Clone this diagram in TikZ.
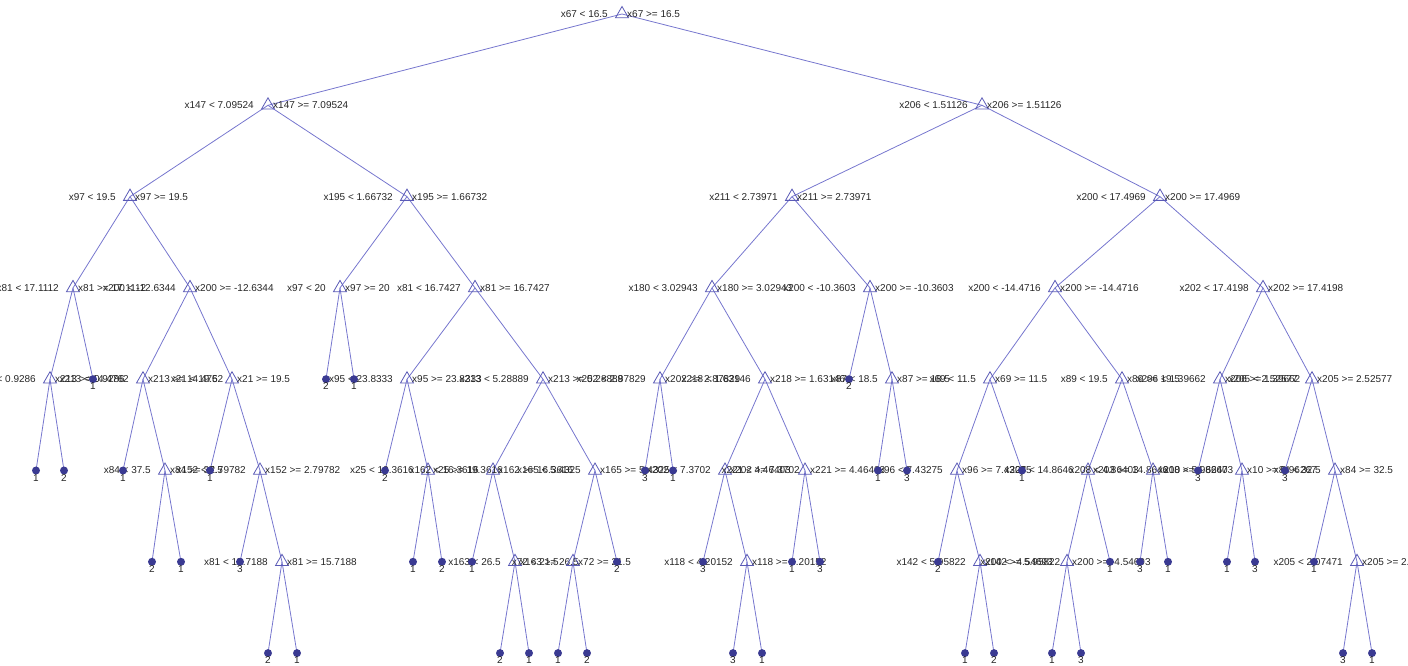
\documentclass[tikz,border=0pt]{standalone}
\usepackage{fontspec}
\setmainfont{Liberation Sans}
\usetikzlibrary{positioning,shapes.geometric,backgrounds}
\definecolor{azulrama}{HTML}{7676CE}
\definecolor{azulnodo}{HTML}{5A5AB6}
\definecolor{azulhoja}{HTML}{3A3A92}

\begin{document}
\begin{tikzpicture}[x=1pt,y=-1pt,
    corte/.style={draw=azulnodo,line width=0.8pt,regular polygon,regular polygon sides=3,minimum size=15pt,inner sep=0pt},
    hojita/.style={circle,fill=azulhoja,minimum size=8pt,inner sep=0pt},
    etq/.style={font=\fontsize{10}{12}\selectfont,inner sep=0pt,text=black!85},
    arista/.style={draw=azulrama,line width=0.8pt}]
    \useasboundingbox (0,0) rectangle (1408,665);
    % nodos de corte: nivel / x / variable / umbral
    \foreach \lv/\px/\feat/\umbral in {0/622/x67/16.5,
      1/268/x147/7.09524, 1/982/x206/1.51126,
      2/130/x97/19.5, 2/407/x195/1.66732, 2/792/x211/2.73971, 2/1160/x200/17.4969,
      3/73/x81/17.1112, 3/190/x200/-12.6344, 3/340/x97/20, 3/475/x81/16.7427,
      3/712/x180/3.02943, 3/870/x200/-10.3603, 3/1055/x200/-14.4716, 3/1263/x202/17.4198,
      4/50/x213/0.9286, 4/143/x213/14.4762, 4/232/x21/19.5, 4/407/x95/23.8333,
      4/543/x213/5.28889, 4/660/x202/2.87829, 4/765/x218/1.63146, 4/892/x87/18.5,
      4/990/x69/11.5, 4/1122/x89/19.5, 4/1220/x206/1.39662, 4/1312/x205/2.52577,
      5/165/x84/37.5, 5/260/x152/2.79782, 5/428/x25/19.3616, 5/493/x162/16.3616,
      5/595/x165/5.4325, 5/725/x202/7.3702, 5/805/x221/4.46403, 5/957/x96/7.43275,
      5/1088/x203/14.8646, 5/1153/x208/4.86403, 5/1242/x10/5.96267, 5/1335/x84/32.5,
      6/282/x81/15.7188, 6/515/x163/26.5, 6/573/x72/21.5, 6/747/x118/4.20152,
      6/980/x142/5.95822, 6/1067/x200/-4.54693, 6/1357/x205/2.07471} {
      \node[corte] (s\lv x\px) at (\px,{14+91.3*\lv}) {};
      \node[etq,left=14pt of s\lv x\px.center] (s\lv x\px l) {\feat{} < \umbral};
      \node[etq,right=5pt of s\lv x\px.center] (s\lv x\px r) {\feat{} >= \umbral};
    }
    % hojas: nivel / x / clase
    \foreach \lv/\px/\cl in {4/93/1, 4/326/2, 4/354/1, 4/849/2,
      5/36/1, 5/64/2, 5/123/1, 5/210/1, 5/385/2, 5/645/3, 5/673/1, 5/878/1,
      5/907/3, 5/1022/1, 5/1198/3, 5/1285/3,
      6/152/2, 6/181/1, 6/240/3, 6/413/1, 6/442/2, 6/472/1, 6/617/2, 6/703/3,
      6/792/1, 6/820/3, 6/938/2, 6/1110/1, 6/1140/3, 6/1168/1, 6/1227/1,
      6/1255/3, 6/1314/1,
      7/268/2, 7/297/1, 7/500/2, 7/529/1, 7/558/1, 7/587/2, 7/733/3, 7/762/1,
      7/965/1, 7/994/2, 7/1052/1, 7/1081/3, 7/1343/3, 7/1372/1} {
      \node[hojita] (h\lv x\px) at (\px,{14+91.3*\lv}) {};
      \node[etq,below=3.5pt of h\lv x\px.center] (h\lv x\px c) {\cl};
    }
    % ramas
    \begin{scope}[on background layer]
      \foreach \a/\b in {s0x622/s1x268, s0x622/s1x982,
        s1x268/s2x130, s1x268/s2x407, s1x982/s2x792, s1x982/s2x1160,
        s2x130/s3x73, s2x130/s3x190, s2x407/s3x340, s2x407/s3x475,
        s2x792/s3x712, s2x792/s3x870, s2x1160/s3x1055, s2x1160/s3x1263,
        s3x73/s4x50, s3x73/h4x93, s3x190/s4x143, s3x190/s4x232,
        s3x340/h4x326, s3x340/h4x354, s3x475/s4x407, s3x475/s4x543,
        s3x712/s4x660, s3x712/s4x765, s3x870/h4x849, s3x870/s4x892,
        s3x1055/s4x990, s3x1055/s4x1122, s3x1263/s4x1220, s3x1263/s4x1312,
        s4x50/h5x36, s4x50/h5x64, s4x143/h5x123, s4x143/s5x165,
        s4x232/h5x210, s4x232/s5x260, s4x407/h5x385, s4x407/s5x428,
        s4x543/s5x493, s4x543/s5x595, s4x660/h5x645, s4x660/h5x673,
        s4x765/s5x725, s4x765/s5x805, s4x892/h5x878, s4x892/h5x907,
        s4x990/s5x957, s4x990/h5x1022, s4x1122/s5x1088, s4x1122/s5x1153,
        s4x1220/h5x1198, s4x1220/s5x1242, s4x1312/h5x1285, s4x1312/s5x1335,
        s5x165/h6x152, s5x165/h6x181, s5x260/h6x240, s5x260/s6x282,
        s5x428/h6x413, s5x428/h6x442, s5x493/h6x472, s5x493/s6x515,
        s5x595/s6x573, s5x595/h6x617, s5x725/h6x703, s5x725/s6x747,
        s5x805/h6x792, s5x805/h6x820, s5x957/h6x938, s5x957/s6x980,
        s5x1088/s6x1067, s5x1088/h6x1110, s5x1153/h6x1140, s5x1153/h6x1168,
        s5x1242/h6x1227, s5x1242/h6x1255, s5x1335/h6x1314, s5x1335/s6x1357,
        s6x282/h7x268, s6x282/h7x297, s6x515/h7x500, s6x515/h7x529,
        s6x573/h7x558, s6x573/h7x587, s6x747/h7x733, s6x747/h7x762,
        s6x980/h7x965, s6x980/h7x994, s6x1067/h7x1052, s6x1067/h7x1081,
        s6x1357/h7x1343, s6x1357/h7x1372}
        \draw[arista] (\a.center) -- (\b.center);
    \end{scope}
\end{tikzpicture}
\end{document}
